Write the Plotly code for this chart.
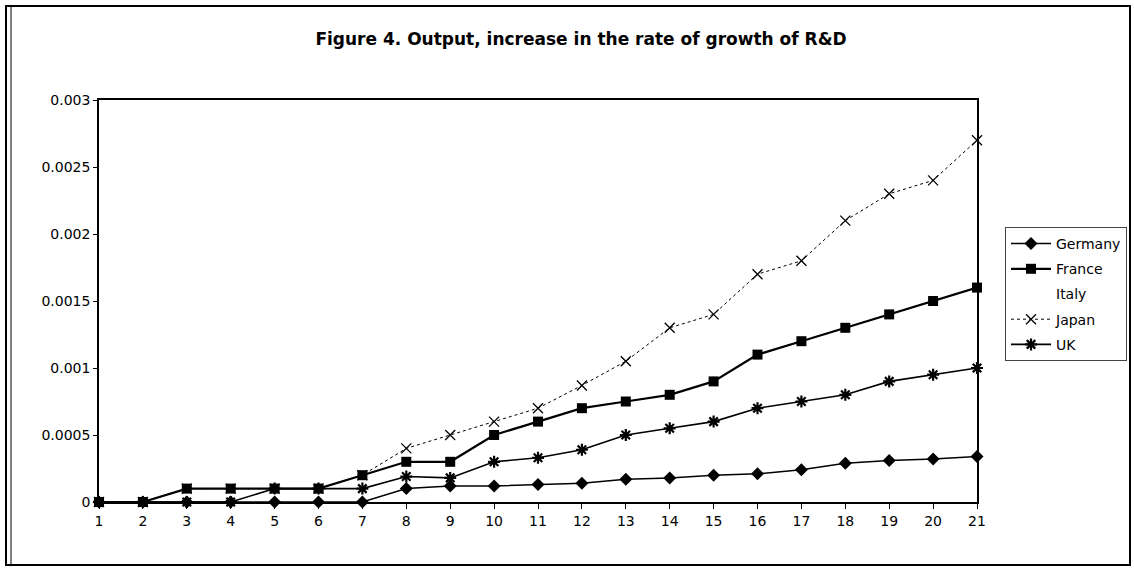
import plotly.graph_objects as go

periods = list(range(1, 22))
germany = [0, 0, 0, 0, 0, 0, 0, 0.0001, 0.00012, 0.00012, 0.00013, 0.00014, 0.00017, 0.00018,
           0.0002, 0.00021, 0.00024, 0.00029, 0.00031, 0.00032, 0.00034]
france = [0, 0, 0.0001, 0.0001, 0.0001, 0.0001, 0.0002, 0.0003, 0.0003, 0.0005, 0.0006, 0.0007,
          0.00075, 0.0008, 0.0009, 0.0011, 0.0012, 0.0013, 0.0014, 0.0015, 0.0016]
italy = [None] * 21
japan = [0, 0, 0.0001, 0.0001, 0.0001, 0.0001, 0.0002, 0.0004, 0.0005, 0.0006, 0.0007, 0.00087,
         0.00105, 0.0013, 0.0014, 0.0017, 0.0018, 0.0021, 0.0023, 0.0024, 0.0027]
uk = [0, 0, 0, 0, 0.0001, 0.0001, 0.0001, 0.00019, 0.00018, 0.0003, 0.00033, 0.00039, 0.0005,
      0.00055, 0.0006, 0.0007, 0.00075, 0.0008, 0.0009, 0.00095, 0.001]
y_ticks = [0, 0.0005, 0.001, 0.0015, 0.002, 0.0025, 0.003]
y_labels = ["0", "0.0005", "0.001", "0.0015", "0.002", "0.0025", "0.003"]
title = "Figure 4. Output, increase in the rate of growth of R&D"

W, H = 1134, 568
L, T, R, B = 99, 100, 977, 502
pw, ph = R - L, B - T


def px(x):
    return (x - L) / pw


def py(y):
    return (B - y) / ph


FONT = "DejaVu Sans, Arial, sans-serif"
fig = go.Figure()
fig.add_trace(go.Scatter(x=periods, y=germany, name="Germany", mode="lines+markers",
                         line=dict(color="black", width=1.5),
                         marker=dict(symbol="diamond", size=10, color="black"),
                         cliponaxis=False, legendgroup="g1"))
fig.add_trace(go.Scatter(x=periods, y=france, name="France", mode="lines+markers",
                         line=dict(color="black", width=2.2),
                         marker=dict(symbol="square", size=10, color="black"),
                         cliponaxis=False, legendgroup="g2"))
fig.add_trace(go.Scatter(x=periods, y=italy, name="Italy", mode="lines",
                         line=dict(color="rgba(255,255,255,0)", width=1),
                         cliponaxis=False, legendgroup="g3"))
fig.add_trace(go.Scatter(x=periods, y=japan, name="Japan", mode="lines+markers",
                         line=dict(color="black", width=1, dash="dot"),
                         marker=dict(symbol="x-thin-open", size=10,
                                     line=dict(color="black", width=1.3)),
                         cliponaxis=False, legendgroup="g4"))
fig.add_trace(go.Scatter(x=periods, y=uk, name="UK", mode="lines+markers",
                         line=dict(color="black", width=1.6),
                         marker=dict(symbol="asterisk-open", size=10,
                                     line=dict(color="black", width=2.2)),
                         cliponaxis=False, legendgroup="g5"))

shapes = [
    dict(type="rect", xref="paper", yref="paper", x0=px(6), x1=px(1130), y0=py(565), y1=py(6),
         line=dict(color="black", width=2)),
    dict(type="line", xref="paper", yref="paper", x0=px(11), x1=px(11), y0=py(565), y1=py(6),
         line=dict(color="black", width=1)),
]

fig.update_layout(
    width=W, height=H,
    margin=dict(l=L, r=W - R, t=T, b=H - B, autoexpand=False),
    paper_bgcolor="white", plot_bgcolor="white",
    font=dict(family=FONT, size=14, color="black"),
    title=dict(text="<b>" + title + "</b>", x=581 / W, xanchor="center",
               y=1 - 39 / H, yanchor="middle",
               font=dict(family=FONT, size=17, color="black")),
    showlegend=True,
    legend=dict(x=px(1005), y=py(227), xanchor="left", yanchor="top",
                bordercolor="#444", borderwidth=1, bgcolor="white",
                font=dict(family=FONT, size=14, color="black"),
                tracegroupgap=4, traceorder="grouped", itemwidth=40),
    shapes=shapes,
)
fig.update_xaxes(range=[1, 21], tickvals=periods, ticktext=[str(p) for p in periods],
                 showgrid=False, zeroline=False, showline=True, linecolor="black",
                 linewidth=1.5, mirror=True, ticks="outside", ticklen=5, tickcolor="black",
                 tickfont=dict(family=FONT, size=14, color="black"))
fig.update_yaxes(range=[0, 0.003], tickvals=y_ticks, ticktext=y_labels,
                 showgrid=False, zeroline=False, showline=True, linecolor="black",
                 linewidth=1.5, mirror=True, ticks="outside", ticklen=4, tickcolor="black",
                 tickfont=dict(family=FONT, size=14, color="black"))

fig.write_html("out.html", config={"displayModeBar": False},
               post_script="document.body.style.margin='0';")
